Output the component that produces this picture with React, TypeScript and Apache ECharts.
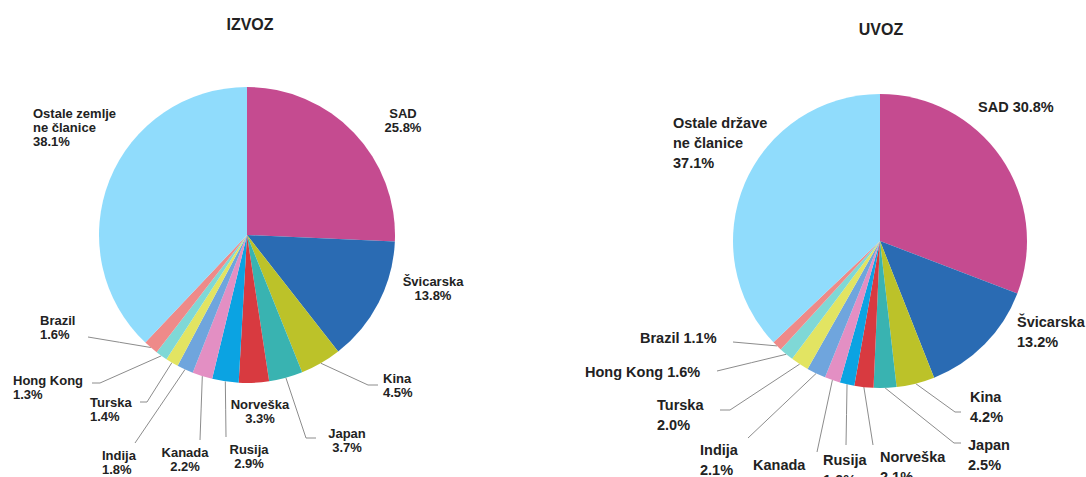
import React, { useEffect, useRef } from "react";
import * as echarts from "echarts";

// ---- data ----
const titles = ["IZVOZ", "UVOZ"];
const exportNames = ["SAD", "Švicarska", "Kina", "Japan", "Norveška", "Rusija", "Kanada", "Indija", "Turska", "Hong Kong", "Brazil", "Ostale zemlje\nne članice"];
const importNames = ["SAD", "Švicarska", "Kina", "Japan", "Norveška", "Rusija", "Kanada", "Indija", "Turska", "Hong Kong", "Brazil", "Ostale države\nne članice"];
const exportValues = [25.8, 13.8, 4.5, 3.7, 3.3, 2.9, 2.2, 1.8, 1.4, 1.3, 1.6, 38.1];
const importValues = [30.8, 13.2, 4.2, 2.5, 2.1, 1.6, 1.7, 2.1, 2.0, 1.6, 1.1, 37.1];
const exportSeparators = ["\n", "\n", "\n", "\n", "\n", "\n", "\n", "\n", "\n", "\n", "\n", "\n"];
const importSeparators = [" ", "\n", "\n", "\n", "\n", "\n", "\n", "\n", "\n", " ", " ", "\n"];
const sliceColors = ["#c54b90", "#2a6bb3", "#bcc229", "#39b3b1", "#d83a40", "#0ba3e2", "#e38fc3", "#6fa5dd", "#e2e462", "#7fd8d6", "#ee8a89", "#90dcfc"];

// ---- label layout (positions only) ----
type LabelPos = { x: number; y: number; align: string; line?: number[] };
const exportLabelPos: LabelPos[] = [
  { x: 403, y: 106, align: "center" },
  { x: 433, y: 274, align: "center" },
  { x: 383, y: 371, align: "left", line: [-5, 14, -10] },
  { x: 347, y: 426, align: "center", line: [-31, 12, -10] },
  { x: 260, y: 397, align: "center" },
  { x: 249, y: 442, align: "center", line: [-23, -5, 0] },
  { x: 185, y: 445, align: "center", line: [15, -5, 0] },
  { x: 102, y: 448, align: "left", line: [33, -5, 0] },
  { x: 90, y: 395, align: "left", line: [50, 7, 7] },
  { x: 13, y: 373, align: "left", line: [79, 10, 8] },
  { x: 40, y: 313, align: "left", line: [48, 24, 0] },
  { x: 33, y: 106, align: "left" },
];
const importLabelPos: LabelPos[] = [
  { x: 978, y: 97, align: "left" },
  { x: 1017, y: 312, align: "left" },
  { x: 970, y: 387, align: "left", line: [-9, 25, -6] },
  { x: 968, y: 435, align: "left", line: [-7, 8, -7] },
  { x: 880, y: 447, align: "left", line: [-7, -2, 0] },
  { x: 823, y: 450, align: "left", line: [23, -5, 0] },
  { x: 753, y: 455, align: "left", line: [64, -3, 0] },
  { x: 700, y: 440, align: "left", line: [48, -2, 0] },
  { x: 657, y: 395, align: "left", line: [63, 15, 10] },
  { x: 585, y: 362, align: "left", line: [132, 9, 0] },
  { x: 640, y: 328, align: "left", line: [93, 14, 0] },
  { x: 673, y: 113, align: "left" },
];

const FONT = "'Liberation Sans', Arial, Helvetica, sans-serif";

function makeLayout(pos: LabelPos[]) {
  return (params: any) => {
    const L = pos[params.dataIndex];
    const out: any = { x: L.x, y: L.y, align: L.align, verticalAlign: "top", moveOverlap: null, hideOverlap: false };
    if (L.line && params.labelLinePoints && params.labelLinePoints.length) {
      const p0 = params.labelLinePoints[0];
      const anchor = [L.x + L.line[0], L.y + L.line[1]];
      const pts: number[][] = [[p0[0], p0[1]]];
      if (L.line[2]) pts.push([anchor[0] + L.line[2], anchor[1]]);
      pts.push(anchor);
      if (pts.length === 2) pts.splice(1, 0, [(p0[0] + anchor[0]) / 2, (p0[1] + anchor[1]) / 2]);
      out.labelLinePoints = pts;
    }
    return out;
  };
}

function makeSeries(names: string[], values: number[], seps: string[], pos: LabelPos[], center: number[], radius: number, fontSize: number, lineHeight: number) {
  return {
    type: "pie",
    center,
    radius,
    startAngle: 90,
    clockwise: true,
    avoidLabelOverlap: false,
    minShowLabelAngle: 0,
    silent: true,
    data: values.map((v, i) => ({
      name: names[i],
      value: v,
      itemStyle: { color: sliceColors[i] },
      labelLine: { show: !!pos[i].line },
    })),
    label: {
      show: true,
      position: "outside",
      formatter: (p: any) => p.name + seps[p.dataIndex] + Number(p.value).toFixed(1) + "%",
      color: "#222",
      fontFamily: FONT,
      fontSize,
      fontWeight: "bold",
      lineHeight,
      width: 240,
      overflow: "none",
    },
    labelLine: { show: true, smooth: false, lineStyle: { color: "#8c8c8c", width: 1 } },
    labelLayout: makeLayout(pos),
  };
}

export default function App() {
  const ref = useRef<HTMLDivElement>(null);
  useEffect(() => {
    if (!ref.current) return;
    const chart = echarts.init(ref.current, undefined, { renderer: "svg" });
    chart.setOption({
      animation: false,
      backgroundColor: "#ffffff",
      graphic: [
        { type: "text", x: 250, y: 24, style: { text: titles[0], fill: "#222", font: `bold 16px ${FONT}`, textAlign: "center", textVerticalAlign: "middle", align: "center", verticalAlign: "middle" } },
        { type: "text", x: 881, y: 29, style: { text: titles[1], fill: "#222", font: `bold 16px ${FONT}`, textAlign: "center", textVerticalAlign: "middle", align: "center", verticalAlign: "middle" } },
      ],
      series: [
        makeSeries(exportNames, exportValues, exportSeparators, exportLabelPos, [247, 235], 148, 13, 14),
        makeSeries(importNames, importValues, importSeparators, importLabelPos, [880, 241], 147, 14.5, 20),
      ],
    });
    return () => chart.dispose();
  }, []);
  return <div ref={ref} style={{ position: "fixed", left: 0, top: 0, width: 1086, height: 477 }} />;
}
